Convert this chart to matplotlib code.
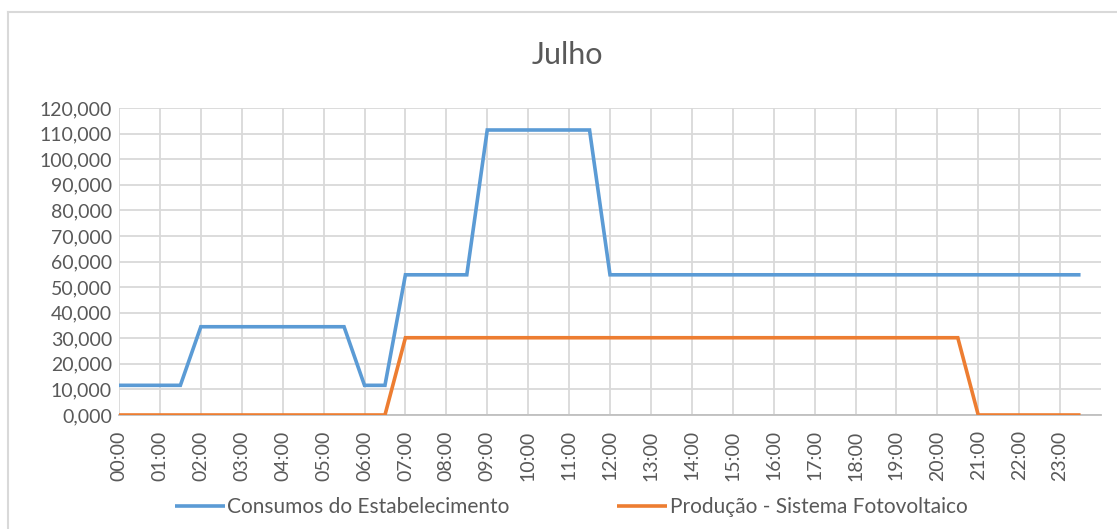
import matplotlib
matplotlib.use("Agg")
import matplotlib.pyplot as plt
from matplotlib.lines import Line2D
from matplotlib.ticker import FuncFormatter

# half-hour slots 00:00 .. 23:30
times = ["%02d:%02d" % (h, m) for h in range(24) for m in (0, 30)]

consumos = ([11.6] * 4 + [34.5] * 8 + [11.6] * 2 + [54.8] * 4 +
            [111.4] * 6 + [54.8] * 24)
producao = [0.0] * 14 + [30.2] * 28 + [0.0] * 6

series_names = ["Consumos do Estabelecimento", "Produção - Sistema Fotovoltaico"]
colors = ["#5B9BD5", "#ED7D31"]
title = "Julho"

plt.rcParams["font.family"] = ["Lato", "DejaVu Sans"]
text_color = "#595959"
grid_color = "#D9D9D9"

W, H = 1117, 529
fig = plt.figure(figsize=(W / 100, H / 100), dpi=100)
ax = fig.add_axes([119 / W, 1 - 415 / H, (1101 - 119) / W, (415 - 108) / H])

x = list(range(len(times)))
for vals, name, c in zip([consumos, producao], series_names, colors):
    ax.plot(x, vals, color=c, lw=2.6, label=name, solid_capstyle="butt",
            solid_joinstyle="miter", zorder=3)

ax.set_xlim(0, 48)
ax.set_ylim(0, 120)
ax.set_yticks(range(0, 121, 10))
ax.yaxis.set_major_formatter(FuncFormatter(lambda v, p: ("%.3f" % v).replace(".", ",")))
ax.set_xticks(x[::2])
ax.set_xticklabels(times[::2], rotation=90)

ax.grid(True, color=grid_color, lw=1.3, zorder=0)
ax.set_axisbelow(True)
for side in ("top", "right", "left"):
    ax.spines[side].set_visible(False)
ax.spines["bottom"].set_color("#BFBFBF")
ax.spines["bottom"].set_linewidth(1.3)
ax.tick_params(axis="both", length=0, labelsize=14, colors=text_color)
ax.tick_params(axis="y", pad=5)
ax.tick_params(axis="x", pad=11)

fig.text(567 / W, 1 - 55 / H, title, ha="center", va="center",
         fontsize=22, color=text_color)

fig.legend(loc="center", bbox_to_anchor=(571 / W, 1 - 507 / H), ncol=2,
           frameon=False, fontsize=15, handlelength=2.4, handletextpad=0.1,
           columnspacing=5.2, labelcolor=text_color)

# chart area border (only top/left visible in the crop)
border = "#D9D9D9"
fig.add_artist(Line2D([8 / W, 8 / W], [0, 1 - 12 / H], color=border, lw=1.5))
fig.add_artist(Line2D([8 / W, 1], [1 - 12 / H, 1 - 12 / H], color=border, lw=1.5))

fig.savefig("out.png", dpi=100)
